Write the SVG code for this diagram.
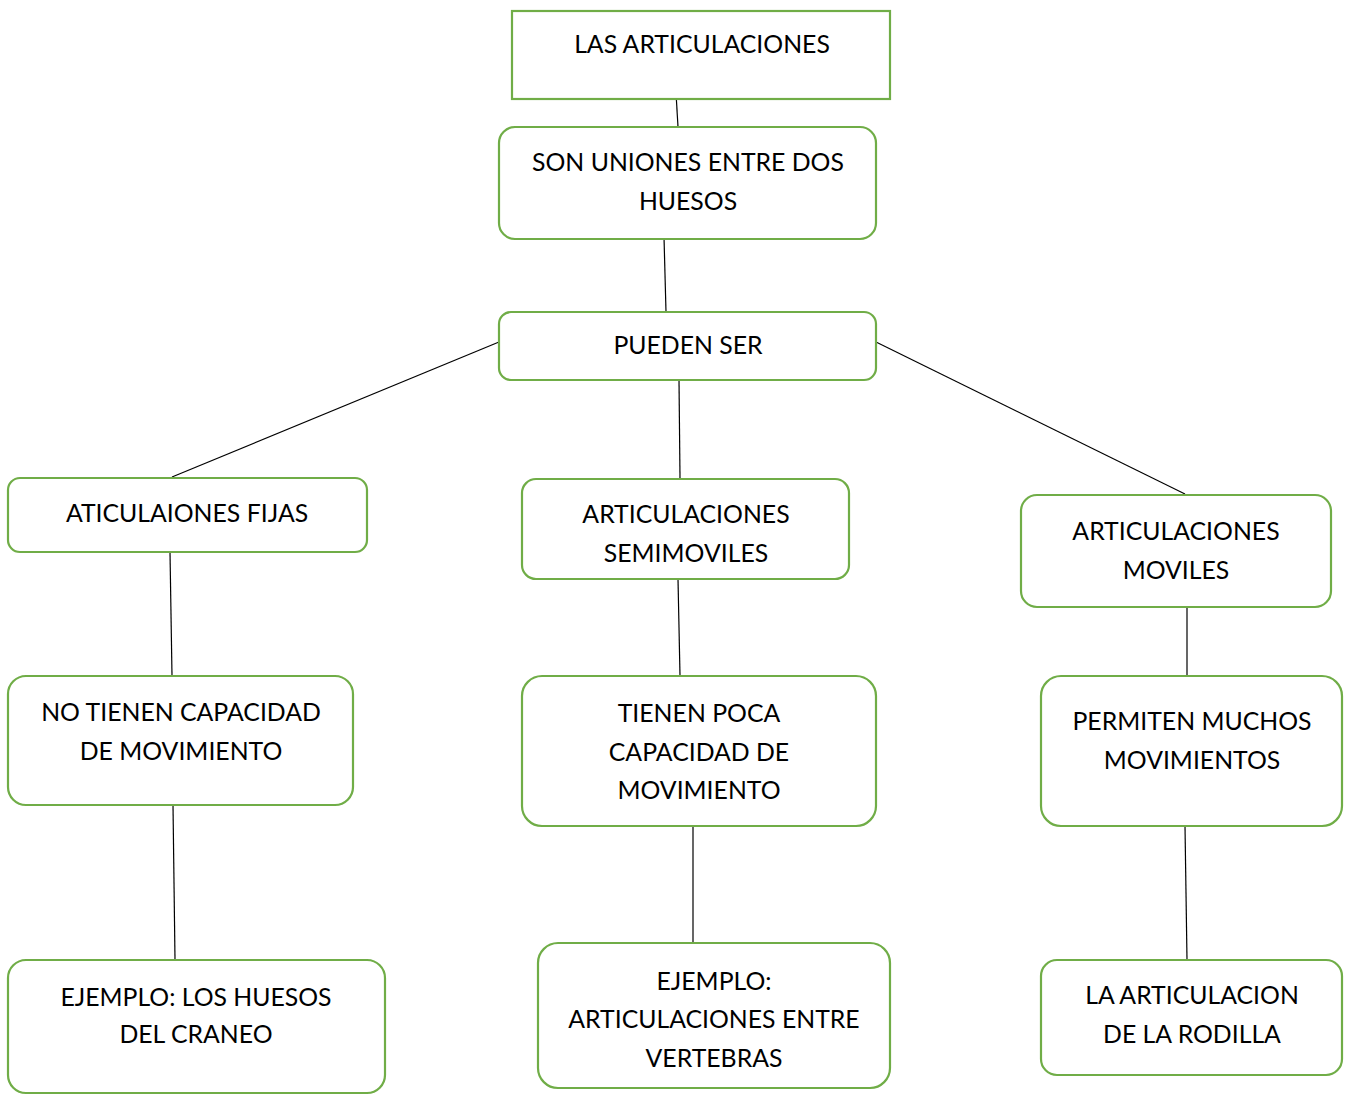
<svg xmlns="http://www.w3.org/2000/svg" width="1347" height="1100" viewBox="0 0 1347 1100">
<style>
.box{fill:#fff;stroke:#70AD47;stroke-width:2.2}
.t{font-family:Lato,"Open Sans","Liberation Sans",sans-serif;font-size:24.8px;fill:#000;text-anchor:middle}
.c line{stroke:#000;stroke-width:1.2}
</style>
<rect width="1347" height="1100" fill="#fff"/>
<g class="c" id="connectors">
<line x1="676" y1="93" x2="678" y2="127"/>
<line x1="664" y1="237" x2="666" y2="312"/>
<line x1="499" y1="342" x2="172" y2="477"/>
<line x1="679" y1="380" x2="680" y2="478"/>
<line x1="876" y1="342" x2="1185" y2="494"/>
<line x1="170" y1="552" x2="172" y2="676"/>
<line x1="678" y1="579" x2="680" y2="676"/>
<line x1="1187" y1="607" x2="1187" y2="676"/>
<line x1="173" y1="805" x2="175" y2="960"/>
<line x1="693" y1="826" x2="693" y2="943"/>
<line x1="1185" y1="826" x2="1187" y2="960"/>
</g>
<g id="n1"><rect class="box" x="512" y="11" width="378" height="88"/><text class="t" x="702" y="53">LAS ARTICULACIONES</text></g>
<g id="n2"><rect class="box" x="499" y="127" width="377" height="112" rx="16"/><text class="t" x="688" y="171">SON UNIONES ENTRE DOS</text><text class="t" x="688" y="210">HUESOS</text></g>
<g id="n3"><rect class="box" x="499" y="312" width="377" height="68" rx="12"/><text class="t" x="688" y="354">PUEDEN SER</text></g>
<g id="n4"><rect class="box" x="8" y="478" width="359" height="74" rx="12"/><text class="t" x="187" y="522">ATICULAIONES FIJAS</text></g>
<g id="n5"><rect class="box" x="522" y="479" width="327" height="100" rx="14"/><text class="t" x="686" y="523">ARTICULACIONES</text><text class="t" x="686" y="562">SEMIMOVILES</text></g>
<g id="n6"><rect class="box" x="1021" y="495" width="310" height="112" rx="16"/><text class="t" x="1176" y="540">ARTICULACIONES</text><text class="t" x="1176" y="579">MOVILES</text></g>
<g id="n7"><rect class="box" x="8" y="676" width="345" height="129" rx="18"/><text class="t" x="181" y="721">NO TIENEN CAPACIDAD</text><text class="t" x="181" y="760">DE MOVIMIENTO</text></g>
<g id="n8"><rect class="box" x="522" y="676" width="354" height="150" rx="20"/><text class="t" x="699" y="722">TIENEN POCA</text><text class="t" x="699" y="761">CAPACIDAD DE</text><text class="t" x="699" y="799">MOVIMIENTO</text></g>
<g id="n9"><rect class="box" x="1041" y="676" width="301" height="150" rx="20"/><text class="t" x="1192" y="730">PERMITEN MUCHOS</text><text class="t" x="1192" y="769">MOVIMIENTOS</text></g>
<g id="n10"><rect class="box" x="8" y="960" width="377" height="133" rx="18"/><text class="t" x="196" y="1006">EJEMPLO: LOS HUESOS</text><text class="t" x="196" y="1043">DEL CRANEO</text></g>
<g id="n11"><rect class="box" x="538" y="943" width="352" height="145" rx="20"/><text class="t" x="714" y="990">EJEMPLO:</text><text class="t" x="714" y="1028">ARTICULACIONES ENTRE</text><text class="t" x="714" y="1067">VERTEBRAS</text></g>
<g id="n12"><rect class="box" x="1041" y="960" width="301" height="115" rx="16"/><text class="t" x="1192" y="1004">LA ARTICULACION</text><text class="t" x="1192" y="1043">DE LA RODILLA</text></g>
</svg>
